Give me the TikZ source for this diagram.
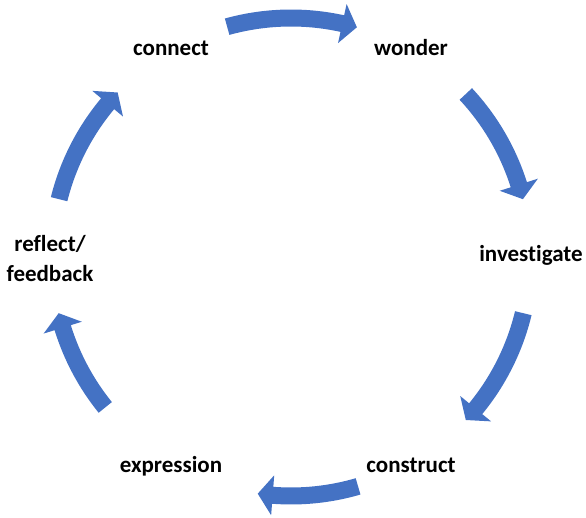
\documentclass[tikz,border=0pt]{standalone}
\usepackage{fontspec}
\setmainfont{Carlito}[Ligatures=NoCommon]
\usetikzlibrary{positioning}
\definecolor{ringblue}{HTML}{4472C4}
\tikzset{
    steplabel/.style = {font=\bfseries\fontsize{23}{30}\selectfont, text=black, inner sep=0pt, anchor=base, align=center},
    ringfill/.style = {fill=ringblue, draw=none}
}
% ring geometry (pt)
\newcommand{\ringr}{239}
\newcommand{\shafthw}{8.5}
\newcommand{\headhw}{20}
\newcommand{\headlen}{3.6}
% #1 = tail angle, #2 = tip angle (clockwise)
\newcommand{\cyclearrow}[2]{%
  \fill[ringfill] ({#1}:{\ringr+\shafthw})
    arc[start angle={#1}, end angle={#2+\headlen}, radius={(\ringr+\shafthw)*1pt}]
    -- ({#2+\headlen}:{\ringr+\headhw}) -- ({#2}:{\ringr}) -- ({#2+\headlen}:{\ringr-\headhw})
    -- ({#2+\headlen}:{\ringr-\shafthw})
    arc[start angle={#2+\headlen}, end angle={#1}, radius={(\ringr-\shafthw)*1pt}] -- cycle;}

\begin{document}
\begin{tikzpicture}[x=1pt,y=1pt]
\path[use as bounding box] (0,0) rectangle (586,517);
%
\node[steplabel] at (171,461) (connect) {connect};
\node[steplabel] at (411,461) (wonder) {wonder};
\node[steplabel] at (531,255) (investigate) {investigate};
\node[steplabel] at (411,45) (construct) {construct};
\node[steplabel] at (171,45) (expression) {expression};
\node[steplabel] at (50,235) (reflect) {reflect/\\feedback};
%
\begin{scope}[shift={(291,260)}]
\cyclearrow{105.5}{74}
\cyclearrow{43}{14}
\cyclearrow{-13.6}{-43}
\cyclearrow{-73.7}{-98}
\cyclearrow{219}{193.6}
\cyclearrow{166}{136.5}
\end{scope}
\end{tikzpicture}
\end{document}
